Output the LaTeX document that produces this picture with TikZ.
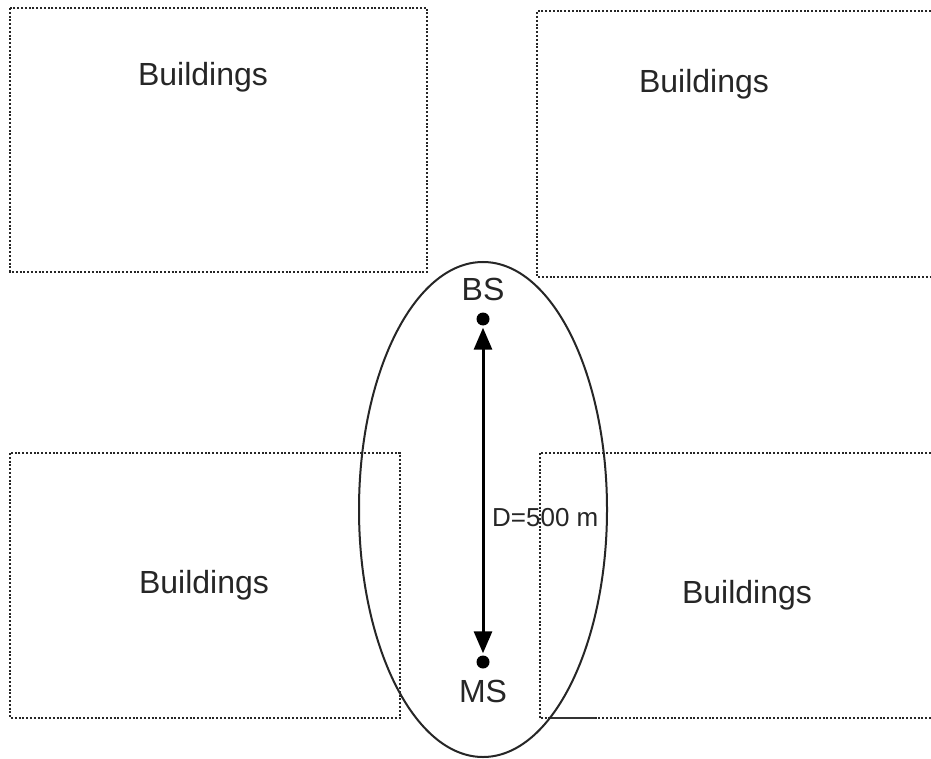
\documentclass[tikz,border=0pt]{standalone}
\usepackage{fontspec}
\setmainfont{Liberation Sans}
\usetikzlibrary{arrows.meta,shapes.geometric}
\begin{document}
\begin{tikzpicture}[x=1pt,y=-1pt,
  bldg/.style={draw=black!85,line width=2.2pt,dash pattern=on 2pt off 1.8pt},
  lbl/.style={font=\fontsize{32}{36}\selectfont,text=black!85,inner sep=0pt},
  dot/.style={circle,fill=black,inner sep=0pt,minimum size=13pt},
  dist/.style={line width=3pt,{Triangle[length=22pt,width=18pt]}-{Triangle[length=22pt,width=18pt]},shorten <=2pt,shorten >=2pt}]
\useasboundingbox (0,0) rectangle (931,759);
\fill[white] (0,0) rectangle (931,759);
% buildings
\draw[bldg] (10,8) rectangle (427,272);
\draw[bldg] (931,11) -- (537,11) -- (537,277) -- (931,277);
\draw[bldg] (10,453) rectangle (400,718);
\draw[bldg] (931,453) -- (540,453) -- (540,718) -- (931,718);
\draw[black!80,line width=2pt] (548,718) -- (595,718);
\node[lbl] (t1) at (203,77) {Buildings};
\node[lbl] (t2) at (704,84) {Buildings};
\node[lbl] (t3) at (204,585) {Buildings};
\node[lbl] (t4) at (747,595) {Buildings};
% coverage ellipse
\node[draw=black!85,line width=2pt,ellipse,minimum width=248pt,minimum height=495pt,inner sep=0pt] (cov) at (483,509.5) {};
% stations
\node[dot] (bs) at (483,319) {};
\node[dot] (ms) at (483,662) {};
\node[lbl,anchor=base] (bsl) at (483,300) {BS};
\node[lbl,anchor=base] (msl) at (483,702) {MS};
\draw[dist] (bs) -- (ms);
\node[font=\fontsize{26}{30}\selectfont,text=black!85,inner sep=0pt,anchor=base west] (d) at (492,526) {D=500 m};
\end{tikzpicture}
\end{document}
